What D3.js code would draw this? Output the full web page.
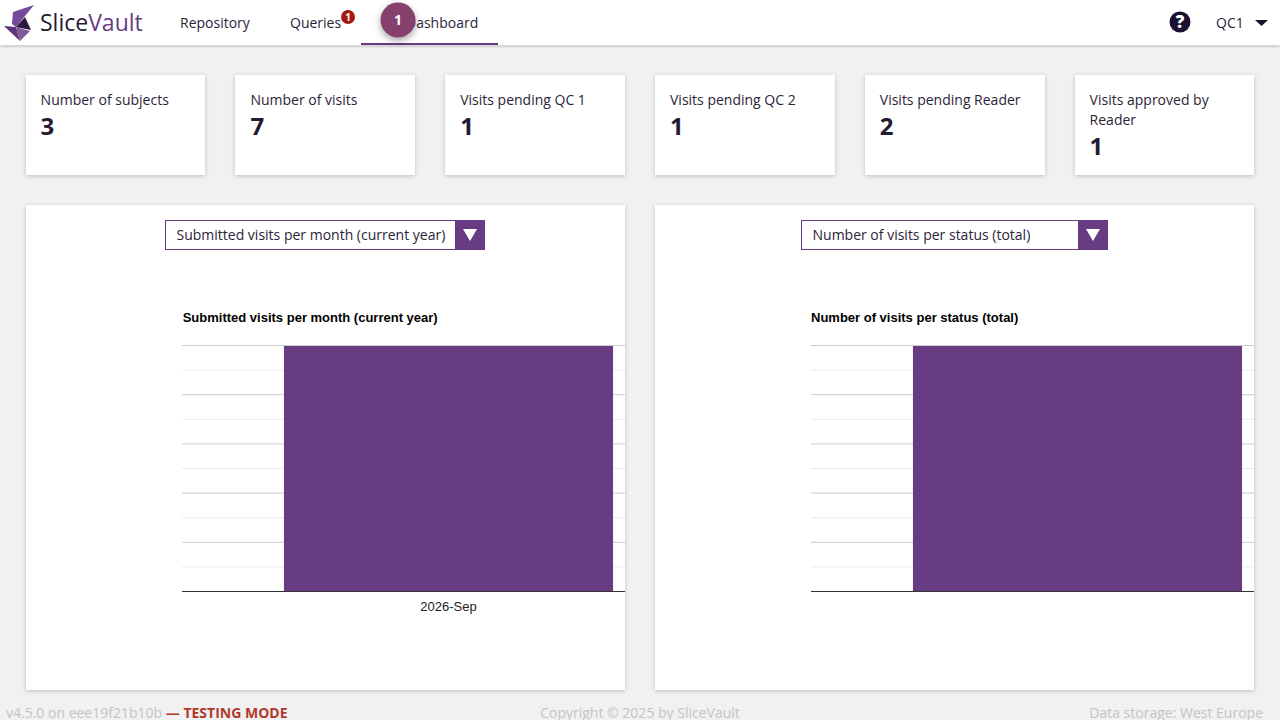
<!DOCTYPE html>
<html>
<head>
<meta charset="utf-8">
<style>
  html, body { margin: 0; padding: 0; background: #f1f1f1; overflow: hidden; }
  svg { display: block; font-family: "Open Sans", sans-serif; }
  .chart text { font-family: "Liberation Sans", Arial, sans-serif; }
</style>
<script src="https://cdn.jsdelivr.net/npm/d3@7"></script>
</head>
<body>
<svg id="page" width="1280" height="720"></svg>
<script>
const statLabels = [["Number of subjects"], ["Number of visits"], ["Visits pending QC 1"], ["Visits pending QC 2"], ["Visits pending Reader"], ["Visits approved by", "Reader"]];
const statValues = [3, 7, 1, 1, 2, 1];

const chartTitles = ["Submitted visits per month (current year)", "Number of visits per status (total)"];
const chartCategories = [["2026-Sep"], [""]];
const chartValues = [[1], [1]];
const gridTicks = [0, 0.1, 0.2, 0.3, 0.4, 0.5, 0.6, 0.7, 0.8, 0.9, 1];

const navItems = ["Repository", "Queries", "Dashboard"];

const purple = "#683c82", ink = "#241a33";
const svg = d3.select("#page");
const defs = svg.append("defs");

const cardShadow = defs.append("filter").attr("id", "cardShadow")
    .attr("x", "-5%").attr("y", "-5%").attr("width", "110%").attr("height", "110%");
cardShadow.append("feDropShadow").attr("dx", 0).attr("dy", 1).attr("stdDeviation", 2)
    .attr("flood-color", "#000").attr("flood-opacity", 0.22);

const tourShadow = defs.append("filter").attr("id", "tourShadow")
    .attr("x", "-50%").attr("y", "-50%").attr("width", "200%").attr("height", "200%");
tourShadow.append("feDropShadow").attr("dx", 0).attr("dy", 3).attr("stdDeviation", 3.5)
    .attr("flood-color", "#000").attr("flood-opacity", 0.35);

// footer sits under everything, cut by the window edge
const footer = svg.append("g").style("font-size", "14px").attr("fill", "#c4c4c4");
const footLeft = footer.append("text").attr("x", 6).attr("y", 718);
footLeft.append("tspan").text("v4.5.0 on eee19f21b10b ");
footLeft.append("tspan").attr("fill", "#b0392b").attr("font-weight", 700).text("\u2014 TESTING MODE");
footer.append("text").attr("x", 640).attr("y", 718).attr("text-anchor", "middle").text("Copyright \u00a9 2025 by SliceVault");
footer.append("text").attr("x", 1263).attr("y", 718).attr("text-anchor", "end").text("Data storage: West Europe");

// stat cards, fractional lefts like the flex layout, boxes snapped to pixels
const statX = d3.scalePoint().domain(d3.range(statLabels.length)).range([25.6, 1074.6]);
const stat = svg.selectAll(".stat").data(statLabels).join("g").attr("class", "stat");
stat.append("rect")
    .attr("x", (d, i) => Math.round(statX(i)))
    .attr("y", 75)
    .attr("width", (d, i) => Math.round(statX(i) + 179.8) - Math.round(statX(i)))
    .attr("height", 100)
    .attr("fill", "#fff").attr("filter", "url(#cardShadow)");
stat.each(function(lines, i) {
    const g = d3.select(this);
    const tx = statX(i) + 15;
    lines.forEach((line, j) => {
        g.append("text").attr("x", tx).attr("y", 105 + j * 20)
            .style("font-size", "14px").attr("fill", "#2c2438").text(line);
    });
    g.append("text").attr("x", tx).attr("y", 135 + (lines.length - 1) * 20)
        .style("font-size", "24px").attr("font-weight", 700).attr("fill", ink).text(statValues[i]);
});

// chart cards
const panels = [
    { x: 26, selectX: 165, selectW: 320, left: 182, titleX: 182.7 },
    { x: 655, selectX: 801, selectW: 307, left: 811, titleX: 811 }
];
const panelW = 599, panelH = 485, plotW = 533, plotTop = 345, plotBottom = 591;

panels.forEach((p, i) => {
    defs.append("clipPath").attr("id", "clip" + i).append("rect")
        .attr("x", p.x).attr("y", 205).attr("width", panelW).attr("height", panelH);

    svg.append("rect").attr("x", p.x).attr("y", 205).attr("width", panelW).attr("height", panelH)
        .attr("fill", "#fff").attr("filter", "url(#cardShadow)");

    // dropdown
    svg.append("rect").attr("x", p.selectX + 0.5).attr("y", 220.5).attr("width", p.selectW - 1).attr("height", 29)
        .attr("fill", "#fff").attr("stroke", purple);
    svg.append("rect").attr("x", p.selectX + p.selectW - 30).attr("y", 220).attr("width", 30).attr("height", 30).attr("fill", purple);
    const ax = p.selectX + p.selectW - 15;
    svg.append("path").attr("d", `M${ax - 7},229 L${ax + 7},229 L${ax},241 Z`).attr("fill", "#fff");
    svg.append("text").attr("x", p.selectX + 11.5).attr("y", 240)
        .style("font-size", "14px").attr("fill", "#2c2438").text(chartTitles[i]);

    const chart = svg.append("g").attr("class", "chart").attr("clip-path", `url(#clip${i})`);
    const x = d3.scaleBand().domain(chartCategories[i]).range([p.left, p.left + plotW]).padding(0.2365);
    const y = d3.scaleLinear().domain([0, 1]).range([plotBottom, plotTop]);

    chart.append("text").attr("x", p.titleX).attr("y", 322)
        .style("font-size", "13px").attr("font-weight", 700).attr("fill", "#000").text(chartTitles[i]);

    // gridlines, no value labels in the original
    const grid = chart.append("g").attr("transform", `translate(${p.left},0)`)
        .call(d3.axisLeft(y).tickValues(gridTicks).tickSize(-plotW).tickFormat(""));
    grid.select(".domain").remove();
    grid.selectAll("line").attr("stroke", (d, k) => k % 2 === 0 ? "#cccccc" : "#ebebeb");

    // +1 leaves the top gridline showing above the bar
    chart.selectAll(".bar").data(chartValues[i]).join("rect")
        .attr("class", "bar")
        .attr("x", (d, k) => x(chartCategories[i][k]))
        .attr("y", d => y(d) + 1)
        .attr("width", x.bandwidth())
        .attr("height", d => y(0) - y(d) - 1)
        .attr("fill", purple);

    const xAxis = chart.append("g").attr("transform", `translate(0,${plotBottom})`)
        .call(d3.axisBottom(x).tickSize(0).tickPadding(11));
    xAxis.select(".domain").attr("stroke", "#333333").attr("d", `M${p.left},0.5H${p.left + plotW}`);
    xAxis.selectAll("text").style("font-size", "13px")
        .style("font-family", '"Liberation Sans", Arial, sans-serif').attr("fill", "#222");
});

// header bar
svg.append("rect").attr("width", 1280).attr("height", 45).attr("fill", "#fff").attr("filter", "url(#cardShadow)");

// logo
const logoShapes = [
    ["M34,5 L13,12 L12,24 L16,27 Z", "#74489a"],
    ["M4,26 L16,27 L20,41 Z", "#5d3578"],
    ["M16,27 L30,31 L20,41 Z", "#7e5a97"],
    ["M16,27 L25,17 L31,30 Z", "#2a1a3d"]
];
svg.append("g").selectAll("path").data(logoShapes).join("path")
    .attr("d", d => d[0]).attr("fill", d => d[1]);
const logoText = svg.append("text").attr("x", 40).attr("y", 31).style("font-size", "23px");
logoText.append("tspan").attr("fill", ink).text("Slice");
logoText.append("tspan").attr("fill", purple).text("Vault");

// nav
const navX = [180, 290, 406];
svg.selectAll(".nav").data(navItems).join("text")
    .attr("class", "nav").attr("x", (d, i) => navX[i]).attr("y", 28)
    .style("font-size", "14px").attr("fill", "#2c2438").text(d => d);
svg.append("rect").attr("x", 361).attr("y", 43).attr("width", 137).attr("height", 2).attr("fill", purple);

svg.append("circle").attr("cx", 348).attr("cy", 17).attr("r", 7).attr("fill", "#a3190f");
svg.append("text").attr("x", 348).attr("y", 21).attr("text-anchor", "middle")
    .style("font-size", "10px").attr("font-weight", 700).attr("fill", "#fff").text("1");

svg.append("circle").attr("cx", 398).attr("cy", 20).attr("r", 17.5).attr("fill", "#853f6c").attr("filter", "url(#tourShadow)");
svg.append("text").attr("x", 398).attr("y", 25).attr("text-anchor", "middle")
    .style("font-size", "14px").attr("font-weight", 700).attr("fill", "#fff").text("1");

// help and user menu
svg.append("circle").attr("cx", 1180).attr("cy", 22).attr("r", 10.5).attr("fill", "#1c1030");
svg.append("text").attr("x", 1180).attr("y", 28).attr("text-anchor", "middle")
    .style("font-size", "17px").attr("font-weight", 800).attr("fill", "#fff").text("?");
svg.append("text").attr("x", 1216).attr("y", 28).style("font-size", "14px").attr("fill", "#2c2438").text("QC1");
svg.append("path").attr("d", "M1255,20 L1268,20 L1261.5,26 Z").attr("fill", "#1c1030");
</script>
</body>
</html>
